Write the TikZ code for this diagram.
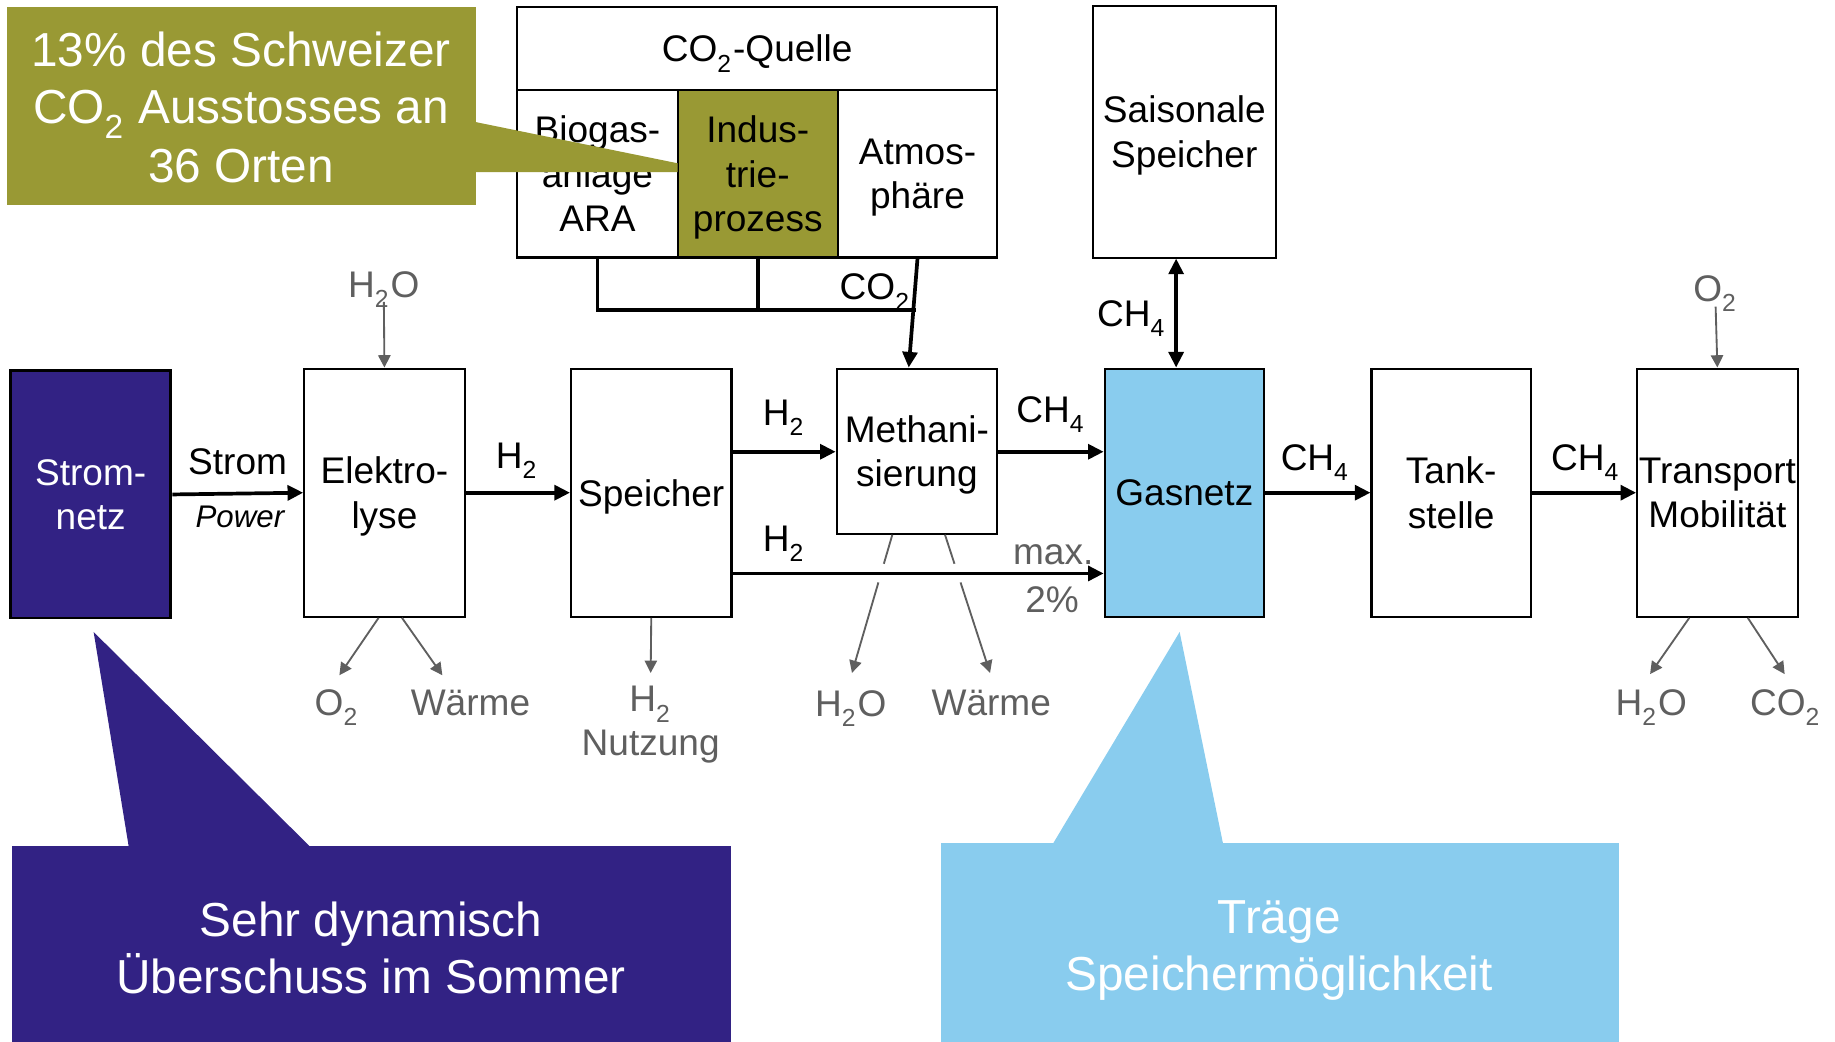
\documentclass[tikz,border=0pt]{standalone}
\usepackage{fontspec}
\setmainfont{Liberation Sans}
\usetikzlibrary{arrows.meta,calc}
\definecolor{olv}{RGB}{153,153,52}
\definecolor{prp}{RGB}{50,34,132}
\definecolor{lblue}{RGB}{137,204,238}
\definecolor{gtxt}{RGB}{95,95,95}
\newcommand{\sbs}[1]{\raisebox{-0.3ex}{\textsubscript{#1}}}
\begin{document}
\begin{tikzpicture}[x=0.01cm,y=-0.01cm,
  box/.style={draw=black, line width=0.5pt, fill=white, inner sep=0pt, align=center, text depth=0pt, font=\fontsize{9}{10.8}\selectfont},
  lbl/.style={inner sep=0pt, font=\fontsize{9}{10.8}\selectfont, text height=6.4pt, text depth=0pt},
  glbl/.style={lbl, text=gtxt},
  flow/.style={line width=0.9pt, -{Triangle[length=3.8pt,width=3.6pt]}},
  gflow/.style={draw=gtxt, line width=0.45pt, -{Triangle[length=3pt,width=3pt]}},
  cl/.style={text=white, inner sep=0pt, font=\fontsize{11.6}{14}\selectfont, text height=8.3pt, text depth=0pt}
]
\useasboundingbox (0,0) rectangle (1568,890);

% main row
\node[box, fill=prp, text=white, line width=0.7pt, minimum width=1.37cm, minimum height=2.11cm] (strom) at (77.5,422.5) {Strom-\\netz};
\node[box, minimum width=1.37cm, minimum height=2.12cm] (elek) at (328.5,421) {Elektro-\\lyse};
\node[box, minimum width=1.37cm, minimum height=2.12cm] (speich) at (556.5,421) {Speicher};
\node[box, minimum width=1.37cm, minimum height=1.41cm] (meth) at (783.5,385.5) {Methani-\\sierung};
\node[box, fill=lblue, minimum width=1.36cm, minimum height=2.12cm] (gas) at (1012,421) {Gasnetz};
\node[box, minimum width=1.36cm, minimum height=2.12cm] (tank) at (1240,421) {Tank-\\stelle};
\node[box, minimum width=1.37cm, minimum height=2.12cm] (trans) at (1467.5,421) {Transport\\Mobilität};

% upper boxes
\node[box, minimum width=1.56cm, minimum height=2.15cm] (saison) at (1012,112.5) {Saisonale\\Speicher};
\node[box, minimum width=4.10cm, minimum height=0.71cm] (quelle) at (647,41.5) {CO\sbs{2}-Quelle};
\node[box, minimum width=1.37cm, minimum height=1.43cm] (biogas) at (510.5,148.5) {Biogas-\\anlage\\ARA};
\node[box, fill=olv, minimum width=1.37cm, minimum height=1.43cm] (indus) at (647.5,148.5) {Indus-\\trie-\\prozess};
\node[box, minimum width=1.36cm, minimum height=1.43cm] (atmos) at (784,148.5) {Atmos-\\phäre};

% CO2 collection lines
\coordinate (j) at (783,265);
\draw[line width=0.9pt] (biogas.south) |- (j);
\draw[line width=0.9pt] (indus.south) -- (indus.south |- j);
\draw[flow] (atmos.south) -- ($(meth.north)+(-7,0)$);
\node[lbl] (lco2) at (748,245) {CO\sbs{2}};

% flow labels
\node[lbl] (lstrom) at (203,394) {Strom};
\node[inner sep=0pt, font=\fontsize{7.6}{9}\selectfont\itshape, text height=5.4pt, text depth=0pt] (lpower) at (205,441) {Power};
\node[lbl] (lh2a) at (442,389) {H\sbs{2}};
\node[lbl] (lh2b) at (670,352) {H\sbs{2}};
\node[lbl] (lh2c) at (670,460) {H\sbs{2}};
\node[lbl] (lch4a) at (898,350) {CH\sbs{4}};
\node[lbl] (lch4b) at (967,268) {CH\sbs{4}};
\node[lbl] (lch4c) at (1124,391) {CH\sbs{4}};
\node[lbl] (lch4d) at (1355,391) {CH\sbs{4}};
\node[glbl] (lmax) at (900,471) {max.};
\node[glbl] (lpct) at (899,512) {2\%};

% main flows
\draw[flow] (strom.east) -- (elek.west);
\draw[flow] (elek.east) -- (speich.west);
\draw[flow] (speich.east |- 0,386) -- (meth.west |- 0,386);
\draw[flow] (speich.east |- 0,490) -- (gas.west |- 0,490);
\draw[flow] (meth.east |- 0,386) -- (gas.west |- 0,386);
\draw[line width=0.9pt, {Triangle[length=3.8pt,width=3.6pt]}-{Triangle[length=3.8pt,width=3.6pt]}] ($(gas.north)+(-7,0)$) -- ($(saison.south)+(-7,0)$);
\draw[flow] (gas.east) -- (tank.west);
\draw[flow] (tank.east) -- (trans.west);

% gray inputs/outputs
\node[glbl] (gh2o1) at (328,243) {H\sbs{2}O};
\node[glbl] (go2a) at (288,600) {O\sbs{2}};
\node[glbl] (gw1) at (402,600) {Wärme};
\node[glbl] (gh2) at (556,597) {H\sbs{2}};
\node[glbl] (gnutz) at (556,634) {Nutzung};
\node[glbl] (gh2o2) at (727,601) {H\sbs{2}O};
\node[glbl] (gw2) at (847,600) {Wärme};
\node[glbl] (go2b) at (1466,246) {O\sbs{2}};
\node[glbl] (gh2o3) at (1411,600) {H\sbs{2}O};
\node[glbl] (gco2) at (1526,600) {CO\sbs{2}};

\draw[gflow] ($(gh2o1.center)+(0,15)$) -- (elek.north);
\draw[gflow] ($(elek.south)+(-5,0)$) -- ($(go2a.center)+(2,-23)$);
\draw[gflow] ($(elek.south)+(15,0)$) -- ($(gw1.center)+(-24,-23)$);
\draw[gflow] (speich.south) -- ($(gh2.center)+(0,-22)$);
\coordinate (ma) at ($(meth.south)+(-21,0)$);
\coordinate (mb) at ($(gh2o2.center)+(1,-26)$);
\coordinate (mc) at ($(meth.south)+(24,0)$);
\coordinate (md) at ($(gw2.center)+(-1,-25)$);
\draw[draw=gtxt, line width=0.45pt] (ma) -- ($(ma)!0.21!(mb)$);
\draw[gflow] ($(ma)!0.345!(mb)$) -- (mb);
\draw[draw=gtxt, line width=0.45pt] (mc) -- ($(mc)!0.21!(md)$);
\draw[gflow] ($(mc)!0.345!(md)$) -- (md);
\draw[gflow] ($(go2b.center)+(0,16)$) -- (trans.north);
\draw[gflow] ($(trans.south)+(-24,0)$) -- ($(gh2o3.center)+(-1,-24)$);
\draw[gflow] ($(trans.south)+(26,0)$) -- ($(gco2.center)+(-1,-24)$);

% olive callout
\fill[olv] (6,6) rectangle (407,175);
\fill[olv] (405,104) -- (579,139.5) -- (579,147) -- (405,147) -- cycle;
\node[cl] (c1a) at (206,42) {13\% des Schweizer};
\node[cl] (c1b) at (206,91) {CO\sbs{2} Ausstosses an};
\node[cl] (c1c) at (206,141) {36 Orten};

% purple callout
\fill[prp] (10,723) rectangle (625,890);
\fill[prp] (80,540) -- (265,723.5) -- (110,723.5) -- cycle;
\node[cl] (c2a) at (317,786) {Sehr dynamisch};
\node[cl] (c2b) at (317,834) {Überschuss im Sommer};

% blue callout
\fill[lblue] (804,720) rectangle (1383,890);
\fill[lblue] (1008,540) -- (1045,720.5) -- (900,720.5) -- cycle;
\node[cl] (c3a) at (1093,783) {Träge};
\node[cl] (c3b) at (1093,832) {Speichermöglichkeit};
\end{tikzpicture}
\end{document}
